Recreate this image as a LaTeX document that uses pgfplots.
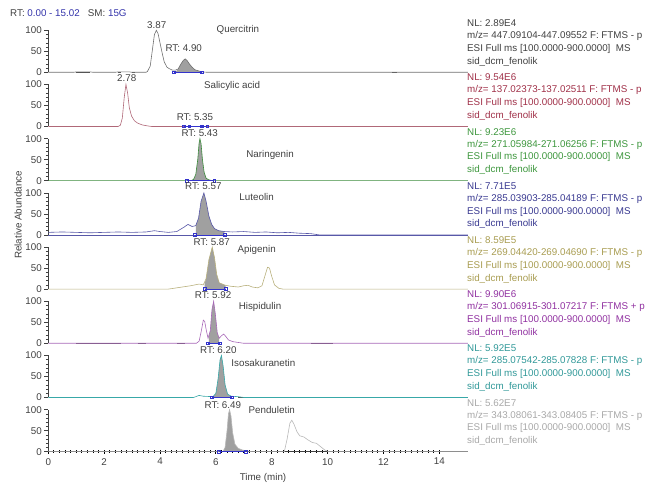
\documentclass[border=0pt]{standalone}
\usepackage{pgfplots}
\pgfplotsset{compat=1.18}
\usepackage{fontspec}
\setmainfont{Liberation Sans}

\definecolor{txt}{HTML}{404040}
\definecolor{rtblue}{HTML}{3333AA}
\definecolor{intblue}{HTML}{3333CC}
\definecolor{shade}{HTML}{A0A0A0}
\definecolor{noise}{HTML}{505050}
% trace / text colours, one pair per panel
\definecolor{tA}{HTML}{707070}\definecolor{xA}{HTML}{404040}
\definecolor{tB}{HTML}{B06878}\definecolor{xB}{HTML}{A03048}
\definecolor{tC}{HTML}{3C8C3C}\definecolor{xC}{HTML}{3C963C}
\definecolor{tD}{HTML}{5858A8}\definecolor{xD}{HTML}{383890}
\definecolor{tE}{HTML}{B8B07C}\definecolor{xE}{HTML}{A89C50}
\definecolor{tF}{HTML}{A868B8}\definecolor{xF}{HTML}{9030A0}
\definecolor{tG}{HTML}{38A8A8}\definecolor{xG}{HTML}{309898}
\definecolor{tH}{HTML}{B8B8B8}\definecolor{xH}{HTML}{A8A8A8}

\newcommand{\fs}{\fontsize{9.8}{11}\selectfont}

\pgfplotsset{
  panel/.style={
    scale only axis, width=419.5pt, height=42pt,
    anchor=south west,
    xmin=0, xmax=15.02, ymin=0, ymax=100,
    ytick={0,50,100}, minor y tick num=4,
    tick align=outside, major tick length=4pt, minor tick length=2.5pt,
    axis line style={txt, line width=0.5pt},
    tick style={txt, line width=0.5pt},
    tick label style={font=\fs, text=txt},
    yticklabel style={xshift=1pt},
    /pgf/number format/assume math mode=true,
    clip=false,
  },
  upper/.style={panel, axis y line*=left, hide x axis},
  trace/.style={#1, line width=0.6pt, mark=none},
  pk/.style={fill=shade, draw=none, mark=none},
  integ/.style={intblue, line width=0.6pt, mark=square, mark size=1.3pt},
  nz/.style={noise, line width=1.1pt, mark=none, unbounded coords=jump},
}
\tikzset{lbl/.style={font=\fs, text=txt, inner sep=0pt}}

\newcommand{\info}[5]{% y, colour, NL, m/z range, sign
  \node[anchor=west, inner sep=0pt, font=\fs, text=#2] at (467pt,#1pt) {NL: #3};
  \node[anchor=west, inner sep=0pt, font=\fs, text=#2] at (467pt,#1pt-12.8pt) {m/z= #4 F: FTMS #5 p};
  \node[anchor=west, inner sep=0pt, font=\fs, text=#2] at (467pt,#1pt-25.6pt) {ESI Full ms [100.0000-900.0000]\ \ MS};
  \node[anchor=west, inner sep=0pt, font=\fs, text=#2] at (467pt,#1pt-38.4pt) {sid\_dcm\_fenolik};
}

\begin{document}
\begin{tikzpicture}
\path[use as bounding box] (0,0) rectangle (649pt,485pt);

% Quercitrin
\begin{axis}[upper, at={(48.3pt,412.7pt)}]
  \addplot[pk] coordinates {(4.55,0) (4.65,8) (4.75,20) (4.83,28) (4.90,32) (4.97,28) (5.05,20) (5.15,12) (5.25,6) (5.4,3) (5.5,1) (5.5,0)} \closedcycle;
  \addplot[nz] coordinates {(1.0,0) (1.5,0) (1.6,nan) (2.5,0) (2.6,0) (2.7,nan) (3.0,0) (3.1,0) (3.2,nan) (12.3,0) (12.5,0)};
  \addplot[trace=tA] coordinates {(0,0) (0.9,0) (1.0,1) (1.5,1) (1.6,0) (2.4,0) (2.5,1) (2.9,1) (3.0,0) (3.5,0) (3.55,2) (3.65,15) (3.72,50) (3.8,90) (3.87,100) (3.93,92) (4.0,70) (4.08,45) (4.15,25) (4.25,12) (4.35,8) (4.45,5) (4.55,5) (4.65,8) (4.75,20) (4.83,28) (4.90,32) (4.97,28) (5.05,20) (5.15,12) (5.25,6) (5.4,3) (5.5,1) (5.7,0) (15.02,0)};
  \addplot[integ] coordinates {(4.5,0) (5.5,0)};
  \node[lbl] at (axis cs:3.88,113) {3.87};
  \node[lbl] at (axis cs:4.85,57) {RT: 4.90};
  \node[lbl] at (axis cs:6.79,100) {Quercitrin};
\end{axis}

% Salicylic acid
\begin{axis}[upper, at={(48.3pt,358.5pt)}]
  \addplot[nz] coordinates {(7.5,0) (8.3,0) (8.4,nan) (8.9,0) (9.6,0) (9.7,nan) (10.2,0) (10.7,0)};
  \addplot[trace=tB] coordinates {(0,0) (2.5,0) (2.58,3) (2.65,20) (2.72,70) (2.78,100) (2.84,80) (2.9,45) (2.98,25) (3.08,14) (3.2,8) (3.35,4) (3.5,2) (3.7,0) (15.02,0)};
  \addplot[integ] coordinates {(4.85,0) (5.05,0) (5.5,0) (5.7,0)};
  \node[lbl] at (axis cs:2.81,115) {2.78};
  \node[lbl] at (axis cs:5.25,22) {RT: 5.35};
  \node[lbl] at (axis cs:6.58,97) {Salicylic acid};
\end{axis}

% Naringenin
\begin{axis}[upper, at={(48.3pt,304.3pt)}]
  \addplot[pk] coordinates {(5.15,0) (5.2,3) (5.28,15) (5.35,50) (5.4,90) (5.43,100) (5.47,88) (5.52,50) (5.58,20) (5.65,6) (5.75,2) (5.85,1) (5.85,0)} \closedcycle;
  \addplot[trace=tC] coordinates {(0,0) (5.1,0) (5.2,3) (5.28,15) (5.35,50) (5.4,90) (5.43,100) (5.47,88) (5.52,50) (5.58,20) (5.65,6) (5.75,2) (5.9,0) (15.02,0)};
  \addplot[integ] coordinates {(4.95,0) (5.95,0)};
  \node[lbl] at (axis cs:5.42,113) {RT: 5.43};
  \node[lbl] at (axis cs:7.94,61) {Naringenin};
\end{axis}

% Luteolin
\begin{axis}[upper, at={(48.3pt,250.1pt)}]
  \addplot[pk] coordinates {(5.28,0) (5.28,22) (5.38,40) (5.47,80) (5.57,100) (5.65,80) (5.75,45) (5.85,25) (5.95,15) (6.1,10) (6.3,8) (6.3,0)} \closedcycle;
  \addplot[trace=tD] coordinates {(0,6) (0.5,7) (1.0,6) (1.5,5) (2.0,6) (2.5,7) (3.0,6) (3.5,7) (3.8,10) (4.0,8) (4.3,6) (4.6,8) (4.85,18) (5.0,25) (5.15,20) (5.28,22) (5.38,40) (5.47,80) (5.57,100) (5.65,80) (5.75,45) (5.85,25) (5.95,15) (6.1,10) (6.3,8) (6.6,7) (7.0,8) (7.4,6) (7.8,7) (8.2,5) (8.6,6) (9.0,4) (9.4,3) (9.7,0) (15.02,0)};
  \addplot[trace=tD] coordinates {(0,0) (15.02,0)};
  \addplot[integ] coordinates {(5.25,0) (6.33,0)};
  \node[lbl] at (axis cs:5.55,115) {RT: 5.57};
  \node[lbl] at (axis cs:7.46,91) {Luteolin};
\end{axis}

% Apigenin
\begin{axis}[upper, at={(48.3pt,195.9pt)}]
  \addplot[pk] coordinates {(5.6,0) (5.6,14) (5.65,25) (5.75,70) (5.87,100) (5.95,75) (6.03,35) (6.12,15) (6.3,10) (6.35,9) (6.35,0)} \closedcycle;
  \addplot[trace=tE] coordinates {(0,0) (4.3,0) (4.5,2) (4.8,5) (5.1,8) (5.4,12) (5.55,10) (5.65,25) (5.75,70) (5.87,100) (5.95,75) (6.03,35) (6.12,15) (6.3,10) (6.5,7) (6.8,5) (7.0,8) (7.15,9) (7.3,5) (7.5,3) (7.65,8) (7.75,30) (7.85,52) (7.92,50) (8.0,30) (8.1,10) (8.25,2) (8.4,0) (15.02,0)};
  \addplot[integ] coordinates {(5.6,0) (6.35,0)};
  \node[lbl] at (axis cs:5.85,111) {RT: 5.87};
  \node[lbl] at (axis cs:7.46,93) {Apigenin};
\end{axis}

% Hispidulin
\begin{axis}[upper, at={(48.3pt,141.7pt)}]
  \addplot[pk] coordinates {(5.75,0) (5.75,18) (5.8,30) (5.86,80) (5.92,100) (5.98,70) (6.05,25) (6.12,12) (6.12,0)} \closedcycle;
  \addplot[nz] coordinates {(1.0,0) (2.6,0) (2.7,nan) (3.2,0) (3.5,0) (3.6,nan) (4.6,0) (4.9,0) (5.0,nan) (9.4,0) (10.2,0)};
  \addplot[trace=tF] coordinates {(0,0) (5.3,0) (5.4,5) (5.48,30) (5.55,55) (5.6,52) (5.66,30) (5.72,12) (5.8,30) (5.86,80) (5.92,100) (5.98,70) (6.05,25) (6.12,12) (6.2,18) (6.28,22) (6.36,16) (6.45,8) (6.6,4) (6.8,2) (7.0,0) (15.02,0)};
  \addplot[integ] coordinates {(5.72,0) (6.15,0)};
  \node[lbl] at (axis cs:5.9,115) {RT: 5.92};
  \node[lbl] at (axis cs:7.58,86) {Hispidulin};
\end{axis}

% Isosakuranetin
\begin{axis}[upper, at={(48.3pt,87.5pt)}]
  \addplot[pk] coordinates {(5.85,0) (5.9,2) (6.0,10) (6.08,45) (6.15,90) (6.20,100) (6.26,75) (6.33,30) (6.42,8) (6.55,3) (6.57,3) (6.57,0)} \closedcycle;
  \addplot[nz] coordinates {(2.4,0) (2.8,0) (2.9,nan) (3.1,0) (3.4,0) (3.5,nan) (4.3,0) (5.0,0) (5.1,nan) (6.8,0) (7.0,0) (7.1,nan) (7.9,0) (8.4,0)};
  \addplot[trace=tG] coordinates {(0,0) (5.2,0) (5.4,5) (5.55,3) (5.9,2) (6.0,10) (6.08,45) (6.15,90) (6.20,100) (6.26,75) (6.33,30) (6.42,8) (6.55,3) (6.8,2) (7.0,0) (15.02,0)};
  \addplot[integ] coordinates {(5.85,0) (6.57,0)};
  \node[lbl] at (axis cs:6.09,113) {RT: 6.20};
  \node[lbl] at (axis cs:7.7,81) {Isosakuranetin};
\end{axis}

% Penduletin
\begin{axis}[panel, at={(48.3pt,33.3pt)},
    axis lines*=left,
    xtick={0,2,...,14}, minor x tick num=9,
    xtick align=center,
    x tick style={black, line width=0.8pt},
    xticklabel style={yshift=-1pt}]
  \addplot[pk] coordinates {(6.1,0) (6.25,0) (6.33,10) (6.4,50) (6.45,90) (6.49,100) (6.54,85) (6.6,45) (6.68,18) (6.8,8) (6.95,4) (7.08,2) (7.08,0)} \closedcycle;
  \addplot[trace=tH] coordinates {(0,0) (6.25,0) (6.33,10) (6.4,50) (6.45,90) (6.49,100) (6.54,85) (6.6,45) (6.68,18) (6.8,8) (6.95,4) (7.1,2) (7.3,0) (8.45,0) (8.55,30) (8.65,68) (8.72,75) (8.8,65) (8.9,48) (9.0,38) (9.15,35) (9.3,28) (9.45,22) (9.6,20) (9.75,12) (9.9,4) (10.05,0) (15.02,0)};
  \addplot[integ] coordinates {(6.1,0) (7.08,0)};
  \node[lbl] at (axis cs:6.25,111) {RT: 6.49};
  \node[lbl] at (axis cs:8.0,99) {Penduletin};
\end{axis}

% header, axis titles
\node[anchor=west, inner sep=0pt, font=\fs, text=txt] at (10pt,472pt)
  {RT: \textcolor{rtblue}{0.00 - 15.02}\ \ \ SM: \textcolor{rtblue}{15G}};
\node[inner sep=0pt, font=\fs, text=txt] at (263pt,7pt) {Time (min)};
\node[inner sep=0pt, font=\fs, text=txt, rotate=90] at (18pt,270pt) {Relative Abundance};

% right-hand annotations
\info{461.7}{xA}{2.89E4}{447.09104-447.09552}{-}
\info{407.5}{xB}{9.54E6}{137.02373-137.02511}{-}
\info{353.3}{xC}{9.23E6}{271.05984-271.06256}{-}
\info{299.1}{xD}{7.71E5}{285.03903-285.04189}{-}
\info{244.9}{xE}{8.59E5}{269.04420-269.04690}{-}
\info{190.7}{xF}{9.90E6}{301.06915-301.07217}{+}
\info{136.5}{xG}{5.92E5}{285.07542-285.07828}{-}
\info{82.3}{xH}{5.62E7}{343.08061-343.08405}{-}
\end{tikzpicture}
\end{document}
